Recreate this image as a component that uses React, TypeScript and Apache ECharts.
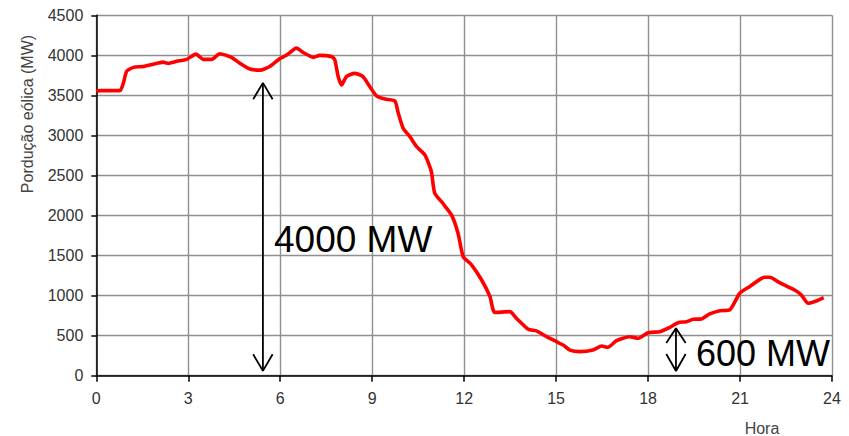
import React, { useEffect, useRef } from "react";
import * as echarts from "echarts";

// Wind production (MW) by hour
const hours = [
  0, 0.12, 0.77, 0.88, 0.99, 1.21, 1.53, 1.86, 2.18, 2.35, 2.62, 2.95, 3.25, 3.49, 3.76,
  4.03, 4.41, 4.69, 5.01, 5.34, 5.66, 5.99, 6.2, 6.53, 6.75, 7.08, 7.29, 7.67, 7.78, 7.89,
  8.0, 8.16, 8.43, 8.7, 8.92, 9.14, 9.41, 9.74, 9.85, 10.01, 10.23, 10.45, 10.72, 10.88,
  10.94, 11.04, 11.31, 11.59, 11.8, 11.97, 12.24, 12.57, 12.84, 13.0, 13.49, 13.71, 14.09,
  14.36, 14.69, 15.01, 15.23, 15.45, 15.77, 16.2, 16.48, 16.69, 16.97, 17.4, 17.67, 18.0,
  18.38, 18.71, 18.98, 19.25, 19.47, 19.74, 20.01, 20.34, 20.66, 20.99, 21.31, 21.8, 21.97,
  22.29, 22.78, 23.0, 23.22, 23.49, 23.73,
];
const production = [
  3550, 3560, 3560, 3650, 3800, 3850, 3860, 3890, 3915, 3900, 3925, 3950, 4015, 3950, 3950,
  4020, 3975, 3900, 3830, 3815, 3860, 3960, 4000, 4090, 4035, 3975, 4000, 3985, 3945, 3735,
  3630, 3735, 3775, 3735, 3610, 3495, 3455, 3430, 3280, 3090, 2985, 2860, 2757, 2610,
  2530, 2280, 2150, 2005, 1780, 1485, 1385, 1195, 990, 790, 800, 715, 580,
  560, 487, 425, 383, 320, 300, 320, 370, 355, 437, 487, 467, 537,
  550, 604, 662, 675, 704, 708, 771, 812, 821, 1029, 1112, 1229, 1229,
  1162, 1070, 1008, 904, 933, 974,
];

// Axis ticks
const xMin = 0, xMax = 24, xStep = 3;
const yMin = 0, yMax = 4500, yStep = 500;

// Annotations (data units): [x, top tip, bottom tip, top wing y, bottom wing y, wing half-width]
const bigArrow = [5.435, 3656, 60, 3452, 267, 0.317];
const smallArrow = [18.91, 592, 59, 408, 271, 0.316];
const bigLabel = "4000 MW";
const smallLabel = "600 MW";
const yName = "Pordução eólica (MW)";
const xName = "Hora";

function arrowSeries(a: number[]) {
  const [x, top, bottom, topWing, botWing, dx] = a;
  const base = {
    type: "line" as const,
    symbol: "none",
    silent: true,
    lineStyle: { color: "#000", width: 1.8 },
    z: 5,
  };
  return [
    { ...base, data: [[x, top], [x, bottom]] },
    { ...base, data: [[x - dx, topWing], [x, top], [x + dx, topWing]] },
    { ...base, data: [[x - dx, botWing], [x, bottom], [x + dx, botWing]] },
  ];
}

export default function App() {
  const ref = useRef<HTMLDivElement>(null);
  useEffect(() => {
    if (!ref.current) return;
    const chart = echarts.init(ref.current, undefined, { renderer: "svg" });
    const font = "'Liberation Sans', Arial, sans-serif";
    chart.setOption({
      animation: false,
      backgroundColor: "#fff",
      grid: { left: 96.3, right: 17, top: 15.3, bottom: 60.3, containLabel: false },
      xAxis: {
        type: "value",
        min: xMin,
        max: xMax,
        interval: xStep,
        axisLine: { show: true, onZero: false, lineStyle: { color: "#000", width: 1.5 } },
        axisTick: { show: true, length: 6, lineStyle: { color: "#000", width: 1.5 } },
        axisLabel: { color: "#333", fontSize: 16, fontFamily: font, margin: 15, formatter: (v: number) => String(v) },
        splitLine: { show: true, lineStyle: { color: "#8f8f8f", width: 1.4 } },
      },
      yAxis: {
        type: "value",
        min: yMin,
        max: yMax,
        interval: yStep,
        axisLine: { show: true, lineStyle: { color: "#000", width: 1.5 } },
        axisTick: { show: true, length: 5, lineStyle: { color: "#000", width: 1.5 } },
        axisLabel: { color: "#333", fontSize: 16, fontFamily: font, margin: 13, formatter: (v: number) => String(v) },
        splitLine: { show: true, lineStyle: { color: "#8f8f8f", width: 1.4 } },
      },
      graphic: [
        {
          type: "text",
          x: 27,
          y: 114,
          rotation: Math.PI / 2,
          style: {
            text: yName,
            fill: "#444",
            font: `16px ${font}`,
            textAlign: "center",
            textVerticalAlign: "middle",
          },
        },
        {
          type: "text",
          x: 762,
          y: 428,
          style: {
            text: xName,
            fill: "#444",
            font: `16px ${font}`,
            textAlign: "center",
            textVerticalAlign: "middle",
          },
        },
        {
          type: "text",
          x: 274,
          y: 239,
          z: 10,
          style: {
            text: bigLabel,
            fill: "#000",
            font: `37px ${font}`,
            textAlign: "left",
            textVerticalAlign: "middle",
          },
        },
        {
          type: "text",
          x: 696,
          y: 353,
          z: 10,
          style: {
            text: smallLabel,
            fill: "#000",
            font: `36px ${font}`,
            textAlign: "left",
            textVerticalAlign: "middle",
          },
        },
      ],
      series: [
        {
          type: "line",
          data: hours.map((h, i) => [h, production[i]]),
          symbol: "none",
          smooth: 0.2,
          lineStyle: { color: "#ff0000", width: 3.6 },
          z: 4,
        },
        ...arrowSeries(bigArrow),
        ...arrowSeries(smallArrow),
      ],
    });
    return () => chart.dispose();
  }, []);
  return (
    <div
      ref={ref}
      style={{ position: "fixed", left: 0, top: 0, width: 849, height: 436 }}
    />
  );
}
